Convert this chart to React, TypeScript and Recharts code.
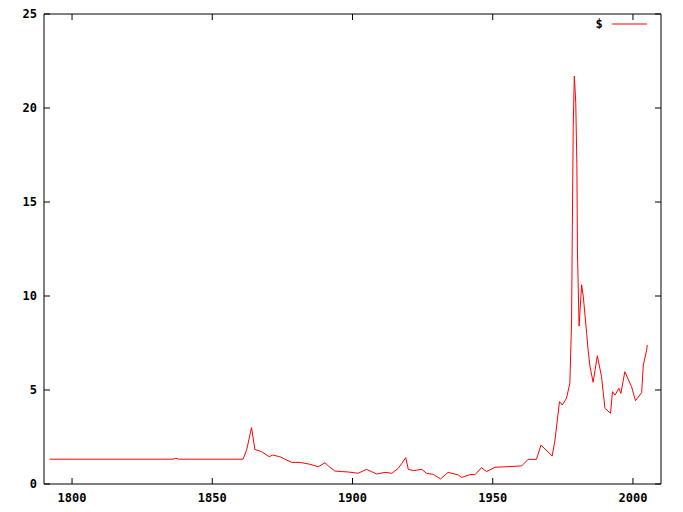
import React from "react";
import {
  LineChart,
  Line,
  XAxis,
  YAxis,
  Legend,
} from "recharts";

// year / value pairs
const YEARS = [
  1792, 1836, 1837, 1838, 1861, 1862.3, 1864, 1865.2, 1867.6, 1870.3, 1871.5, 1874.1,
  1878.3, 1881.3, 1884.8, 1887.8, 1890.2, 1891.4, 1893.7, 1896.1, 1898.5, 1902, 1905,
  1908.6, 1911.6, 1914, 1916.3, 1917.6, 1919, 1919.9, 1921.7, 1924.7, 1926.4, 1928.8,
  1931.4, 1933, 1934.1, 1937.7, 1938.9, 1941.9, 1943.7, 1946, 1947.8, 1950.8, 1955,
  1960.3, 1962.6, 1965.6, 1967.2, 1971.2, 1972.2, 1973.8, 1974.8, 1976.3, 1977.5,
  1978.1, 1978.7, 1979.1, 1979.6, 1980, 1980.2, 1980.8, 1981.7, 1982.3, 1983.5, 1984,
  1984.7, 1985.8, 1987.3, 1988.8, 1990, 1992, 1992.7, 1993.6, 1995, 1995.7, 1997.1,
  1999.5, 2000.9, 2003.1, 2003.7, 2004.9, 2005.1,
];
const PRICES = [
  1.32, 1.32, 1.37, 1.32, 1.32, 1.84, 3.0, 1.84, 1.72, 1.45, 1.54, 1.45,
  1.15, 1.15, 1.05, 0.92, 1.13, 0.96, 0.69, 0.66, 0.64, 0.57, 0.78,
  0.53, 0.62, 0.57, 0.83, 1.1, 1.4, 0.78, 0.71, 0.78, 0.57, 0.51,
  0.27, 0.48, 0.62, 0.48, 0.35, 0.5, 0.5, 0.87, 0.66, 0.89, 0.92,
  0.96, 1.31, 1.31, 2.07, 1.49, 2.34, 4.38, 4.2, 4.56, 5.36,
  8.56, 19.0, 21.7, 20.3, 17.0, 12.4, 8.4, 10.6, 9.96, 8.0, 7.13,
  6.24, 5.41, 6.82, 5.71, 4.03, 3.76, 4.91, 4.73, 5.09, 4.82, 5.97,
  5.18, 4.43, 4.86, 6.33, 7.13, 7.39,
];
const X_TICKS = [1800, 1850, 1900, 1950, 2000];
const Y_TICKS = [0, 5, 10, 15, 20, 25];
const SERIES_NAME = "$";

const data = YEARS.map((year, i) => ({ year, value: PRICES[i] }));

const FONT = "'DejaVu Sans Mono', monospace";
const tickStyle = { fill: "#000", fontSize: 12, fontWeight: "bold" as const, fontFamily: FONT };
const blank = () => "";

function LegendBox() {
  return (
    <svg width={70} height={16}>
      <text x={9} y={12} textAnchor="middle" style={tickStyle}>
        {SERIES_NAME}
      </text>
      <line x1={22} x2={57} y1={8} y2={8} stroke="#ff0000" strokeWidth={1} />
    </svg>
  );
}

export default function App() {
  return (
    <div style={{ position: "absolute", left: 0, top: 0, width: 683, height: 512, background: "#fff" }}>
      <LineChart width={683} height={512} data={data} margin={{ top: 0, right: 0, bottom: 0, left: 0 }}>
        <XAxis
          xAxisId="b"
          dataKey="year"
          type="number"
          domain={[1790, 2010]}
          ticks={X_TICKS}
          orientation="bottom"
          height={28}
          stroke="#000"
          tickSize={-6}
          tickMargin={15}
          tick={tickStyle}
          allowDataOverflow
        />
        <XAxis
          xAxisId="t"
          dataKey="year"
          type="number"
          domain={[1790, 2010]}
          ticks={X_TICKS}
          orientation="top"
          height={14}
          stroke="#000"
          tickSize={-6}
          tickFormatter={blank}
          allowDataOverflow
        />
        <YAxis
          yAxisId="l"
          domain={[0, 25]}
          ticks={Y_TICKS}
          width={44}
          stroke="#000"
          tickSize={-6}
          tickMargin={13}
          tick={tickStyle}
          allowDataOverflow
        />
        <YAxis
          yAxisId="r"
          orientation="right"
          domain={[0, 25]}
          ticks={Y_TICKS}
          width={22}
          stroke="#000"
          tickSize={-6}
          tickFormatter={blank}
          allowDataOverflow
        />
        <Legend
          layout="vertical"
          align="center"
          verticalAlign="middle"
          wrapperStyle={{ left: 590, top: 16, width: 70 }}
          content={() => <LegendBox />}
        />
        <Line
          xAxisId="b"
          yAxisId="l"
          type="linear"
          dataKey="value"
          name={SERIES_NAME}
          stroke="#ff0000"
          strokeWidth={1}
          dot={false}
          isAnimationActive={false}
        />
      </LineChart>
    </div>
  );
}
